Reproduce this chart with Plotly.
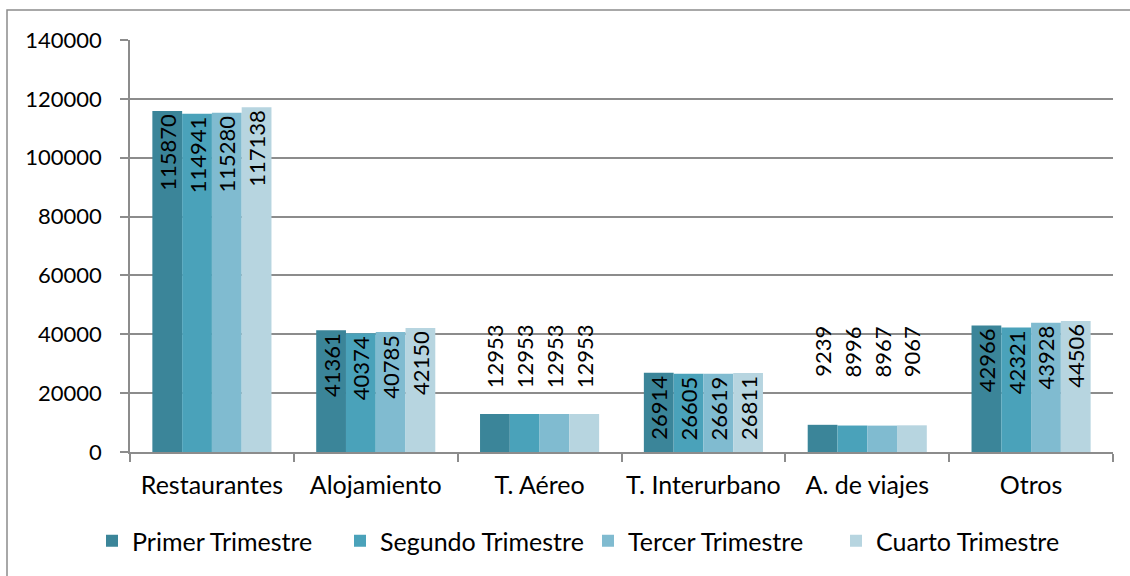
import plotly.graph_objects as go

categories = ["Restaurantes", "Alojamiento", "T. Aéreo", "T. Interurbano", "A. de viajes", "Otros"]
series_names = ["Primer Trimestre", "Segundo Trimestre", "Tercer Trimestre", "Cuarto Trimestre"]
primer = [115870, 41361, 12953, 26914, 9239, 42966]
segundo = [114941, 40374, 12953, 26605, 8996, 42321]
tercer = [115280, 40785, 12953, 26619, 8967, 43928]
cuarto = [117138, 42150, 12953, 26811, 9067, 44506]
colors = ["#3B8599", "#4AA2BA", "#80BBD0", "#B7D5E0"]
text_pos = ["inside", "inside", "outside", "inside", "outside", "inside"]
label_pad = [0, 0, 4, 0, 8, 0]  # non-breaking spaces lifting outside labels

FONT = "Lato"
FS_NUM = 22
FS_TXT = 25
NBSP = "\u00a0"
fig = go.Figure()
for name, vals, col in zip(series_names, [primer, segundo, tercer, cuarto], colors):
    labels = [NBSP * n + str(v) for v, n in zip(vals, label_pad)]
    fig.add_trace(go.Bar(
        x=categories, y=vals, name=name,
        marker=dict(color=col, line=dict(width=0)),
        text=labels,
        textposition=text_pos,
        textangle=-90,
        insidetextanchor="end",
        textfont=dict(family=FONT, size=FS_NUM, color="black"),
        insidetextfont=dict(family=FONT, size=FS_NUM, color="black"),
        outsidetextfont=dict(family=FONT, size=FS_NUM, color="black"),
        cliponaxis=False,
    ))

W, H = 1130, 576
ml, mr, mt, mb = 130, 17, 40, 124
pw, ph = W - ml - mr, H - mt - mb

def px_x(x):
    return (x - ml) / pw

def px_y(y):
    return (H - mb - y) / ph

fig.update_layout(
    width=W, height=H,
    margin=dict(l=ml, r=mr, t=mt, b=mb, pad=0, autoexpand=False),
    barmode="group", bargap=0.273, bargroupgap=0,
    plot_bgcolor="white", paper_bgcolor="white",
    font=dict(family=FONT, size=FS_TXT, color="black"),
    uniformtext=dict(minsize=FS_NUM, mode="show"),
    showlegend=True,
    legend=dict(orientation="h", x=px_x(92), xanchor="left",
                y=px_y(518), yanchor="top", font=dict(family=FONT, size=FS_TXT, color="black"),
                itemwidth=30, entrywidth=203, entrywidthmode="pixels",
                tracegroupgap=0, bgcolor="rgba(0,0,0,0)"),
    xaxis=dict(showline=True, linecolor="#8C8C8C", linewidth=1.5, tickangle=0,
               ticks="outside", tickson="boundaries", ticklen=8, tickcolor="#8C8C8C", tickwidth=1.5,
               ticklabelstandoff=10,
               tickfont=dict(family=FONT, size=FS_TXT, color="black"), showgrid=False),
    yaxis=dict(range=[0, 140000], dtick=20000, tickformat="d",
               showline=True, linecolor="#8C8C8C", linewidth=1.5,
               ticks="outside", ticklen=8, tickcolor="#8C8C8C", tickwidth=1.5,
               ticklabelstandoff=14,
               showgrid=True, gridcolor="#8C8C8C", gridwidth=1.5,
               zeroline=False,
               tickfont=dict(family=FONT, size=FS_NUM, color="black")),
    shapes=[dict(type="rect", xref="paper", yref="paper",
                 x0=px_x(7), x1=px_x(1145), y0=px_y(590), y1=px_y(10),
                 line=dict(color="#8C8C8C", width=1.5), fillcolor="rgba(0,0,0,0)", layer="below")],
)

fig.write_html("out.html", config={"displayModeBar": False},
               post_script="document.body.style.margin='0';")
